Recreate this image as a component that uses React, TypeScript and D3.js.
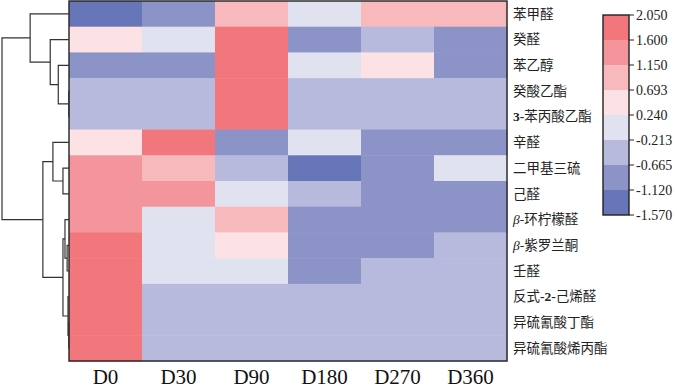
import React from "react";
import * as d3 from "d3";

const compounds = [
  "苯甲醛", "癸醛", "苯乙醇", "癸酸乙酯", "3-苯丙酸乙酯", "辛醛", "二甲基三硫",
  "己醛", "β-环柠檬醛", "β-紫罗兰酮", "壬醛", "反式-2-己烯醛", "异硫氰酸丁酯", "异硫氰酸烯丙酯",
];
const days = ["D0", "D30", "D90", "D180", "D270", "D360"];

const valD0 = [-1.35, 0.45, -0.9, -0.45, -0.45, 0.45, 1.4, 1.4, 1.4, 1.8, 1.8, 1.8, 1.8, 1.8];
const valD30 = [-0.9, 0.0, -0.9, -0.45, -0.45, 1.8, 0.9, 1.4, 0.0, 0.0, 0.0, -0.45, -0.45, -0.45];
const valD90 = [0.9, 1.8, 1.8, 1.8, 1.8, -0.9, -0.45, 0.0, 0.9, 0.45, 0.0, -0.45, -0.45, -0.45];
const valD180 = [0.0, -0.9, 0.0, -0.45, -0.45, 0.0, -1.35, -0.45, -0.9, -0.9, -0.9, -0.45, -0.45, -0.45];
const valD270 = [0.9, -0.45, 0.45, -0.45, -0.45, -0.9, -0.9, -0.9, -0.9, -0.9, -0.45, -0.45, -0.45, -0.45];
const valD360 = [0.9, -0.9, -0.9, -0.45, -0.45, -0.9, 0.0, -0.9, -0.9, -0.45, -0.45, -0.45, -0.45, -0.45];
const seriesValues = [valD0, valD30, valD90, valD180, valD270, valD360];

const legendTicks = [2.05, 1.6, 1.15, 0.693, 0.24, -0.213, -0.665, -1.12, -1.57];
const legendTickLabels = ["2.050", "1.600", "1.150", "0.693", "0.240", "-0.213", "-0.665", "-1.120", "-1.570"];
const binColors = ["#6676b9", "#8c94c7", "#b7badd", "#e1e2f0", "#fce2e4", "#f8b9bd", "#f4959b", "#f2777c"];

// linkage: [childA, childB, height]; leaves 0..13, merges get ids 14+
const linkage: [number, number, number][] = [
  [3, 4, 0.04],
  [12, 13, 0.04],
  [11, 15, 0.15],
  [9, 10, 0.28],
  [8, 17, 0.6],
  [6, 7, 0.9],
  [18, 16, 0.9],
  [2, 14, 1.6],
  [5, 19, 2.4],
  [1, 21, 2.8],
  [22, 20, 3.9],
  [0, 23, 5.8],
  [25, 24, 10],
];

const W = 677, H = 392;
const hmLeft = 69, hmRight = 507, hmTop = 1, hmBottom = 361;
const FONT = "'Times New Roman', 'Liberation Serif', 'Noto Sans CJK SC', serif";

function renderLabel(name: string) {
  const parts: React.ReactNode[] = [];
  const re = /(β)|(-?\d-?)/g;
  let last = 0;
  let m: RegExpExecArray | null;
  let k = 0;
  while ((m = re.exec(name))) {
    if (m.index > last) parts.push(<tspan key={k++}>{name.slice(last, m.index)}</tspan>);
    if (m[1]) parts.push(<tspan key={k++} fontStyle="italic">{m[1]}</tspan>);
    else parts.push(<tspan key={k++} fontWeight="bold">{m[2]}</tspan>);
    last = m.index + m[0].length;
  }
  if (last < name.length) parts.push(<tspan key={k++}>{name.slice(last)}</tspan>);
  return parts;
}

export default function App() {
  const x = d3.scaleBand<string>().domain(days).range([hmLeft, hmRight]);
  const y = d3.scaleBand<string>().domain(compounds).range([hmTop, hmBottom]);
  const thresholds = legendTicks.slice(1, -1).reverse();
  const color = d3.scaleThreshold<number, string>().domain(thresholds).range(binColors);

  // dendrogram
  type N = { id: number; h: number; children?: N[] };
  const nodes: N[] = compounds.map((_, i) => ({ id: i, h: 0 }));
  linkage.forEach(([a, b, h], i) => {
    nodes.push({ id: compounds.length + i, h, children: [nodes[a], nodes[b]] });
  });
  const root = d3.hierarchy<N>(nodes[nodes.length - 1]);
  const dx = d3.scaleLinear().domain([0, 10]).range([hmLeft, 2]);
  const ypos = new Map<d3.HierarchyNode<N>, number>();
  root.eachAfter((n) => {
    if (!n.children) ypos.set(n, (y(compounds[n.data.id]) as number) + y.bandwidth() / 2);
    else ypos.set(n, d3.mean(n.children, (c) => ypos.get(c)!) as number);
  });
  const dendroPaths: string[] = [];
  root.each((n) => {
    if (!n.children) return;
    const nx = dx(n.data.h);
    const ys = n.children.map((c) => ypos.get(c)!);
    const p = d3.path();
    p.moveTo(dx(n.children[0].data.h), ys[0]);
    p.lineTo(nx, ys[0]);
    p.lineTo(nx, ys[1]);
    p.lineTo(dx(n.children[1].data.h), ys[1]);
    dendroPaths.push(p.toString());
  });

  // legend
  const lgX = 603, lgW = 26;
  const ly = d3.scaleLinear().domain([0, legendTicks.length - 1]).range([15, 215]);

  return (
    <svg width={W} height={H} style={{ position: "absolute", left: 0, top: 0, background: "#fff" }} fontFamily={FONT}>
      {seriesValues.map((vals, ci) =>
        vals.map((v, ri) => (
          <rect
            key={`${ci}-${ri}`}
            x={x(days[ci])}
            y={y(compounds[ri])}
            width={x.bandwidth() + 0.5}
            height={y.bandwidth() + 0.5}
            fill={color(v)}
          />
        ))
      )}
      <rect x={hmLeft} y={hmTop} width={hmRight - hmLeft} height={hmBottom - hmTop} fill="none" stroke="#222" strokeWidth={1.4} />
      {dendroPaths.map((d, i) => (
        <path key={i} d={d} fill="none" stroke="#333" strokeWidth={1.2} />
      ))}
      {compounds.map((c) => (
        <text key={c} x={513} y={(y(c) as number) + y.bandwidth() / 2} dy="0.35em" fontSize={13.5} fill="#222">
          {renderLabel(c)}
        </text>
      ))}
      {days.map((d) => (
        <text key={d} x={(x(d) as number) + x.bandwidth() / 2} y={384} textAnchor="middle" fontSize={21} fill="#111">
          {d}
        </text>
      ))}
      {binColors.map((c, i) => (
        <rect key={c} x={lgX} y={ly(7 - i)} width={lgW} height={ly(1) - ly(0)} fill={c} />
      ))}
      <rect x={lgX} y={ly(0)} width={lgW} height={ly(8) - ly(0)} fill="none" stroke="#222" strokeWidth={1.4} />
      {legendTickLabels.map((t, i) => (
        <g key={t}>
          <line x1={lgX + lgW} x2={lgX + lgW + 5} y1={ly(i)} y2={ly(i)} stroke="#222" strokeWidth={1} />
          <text x={lgX + lgW + 7} y={ly(i)} dy="0.35em" fontSize={14} fill="#222">
            {t}
          </text>
        </g>
      ))}
    </svg>
  );
}
